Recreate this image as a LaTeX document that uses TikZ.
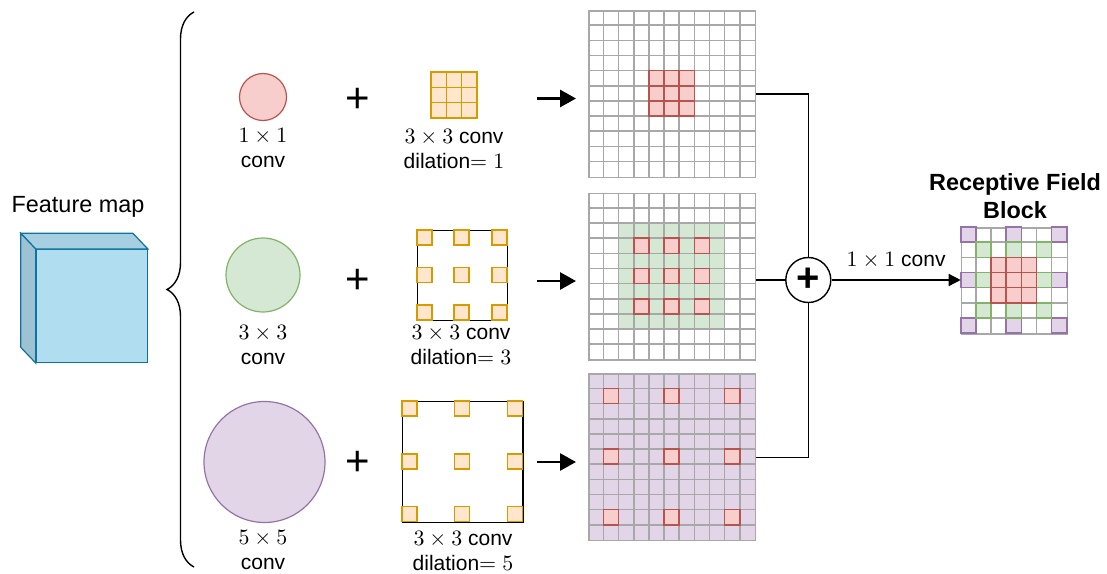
\documentclass[tikz,border=0pt]{standalone}
\usepackage{fontspec}
\setmainfont{Liberation Sans}
\usetikzlibrary{shapes,arrows.meta,positioning,calc,decorations.pathreplacing}

\definecolor{redfill}{HTML}{F8CECC}
\definecolor{redline}{HTML}{B85450}
\definecolor{greenfill}{HTML}{D5E8D4}
\definecolor{greenline}{HTML}{82B366}
\definecolor{purplefill}{HTML}{E1D5E7}
\definecolor{purpleline}{HTML}{9673A6}
\definecolor{orangefill}{HTML}{FFE6CC}
\definecolor{orangeline}{HTML}{D79B00}
\definecolor{bluefill}{HTML}{B1DDF0}
\definecolor{blueline}{HTML}{10739E}
\definecolor{gridgray}{HTML}{A8A8A8}

\tikzset{
    gridframe/.style={rectangle, draw=gridgray, line width=0.75pt, inner sep=0pt, anchor=north west},
    gridline/.style={draw=gridgray, line width=0.75pt},
    redcell/.style={fill=redfill, draw=redline, line width=0.8pt},
    greencell/.style={fill=greenfill, draw=greenline, line width=0.8pt},
    purplecell/.style={fill=purplefill, draw=purpleline, line width=0.8pt},
    orangecell/.style={fill=orangefill, draw=orangeline, line width=0.8pt},
    caption/.style={align=center, font=\fontsize{10.5}{12.5}\selectfont},
    plussign/.style={font=\fontsize{21}{21}\selectfont},
    shortarrow/.style={line width=1.4pt, -{Triangle[length=8pt,width=8.5pt]}},
    link/.style={line width=0.7pt}
}

\begin{document}
\begin{tikzpicture}[x=0.5pt, y=-0.5pt]
    \useasboundingbox (0,0) rectangle (1107,573);

    % input feature map
    \node[font=\fontsize{11.7}{14}\selectfont] (fmtext) at (78,207) {Feature map};
    \node[rectangle, draw=blueline, fill=bluefill, line width=0.6pt, minimum width=55.5pt, minimum height=56.4pt, anchor=north west] (fmap) at (35.7,249) {};
    \draw[draw=blueline, fill=bluefill!94!black, line width=0.6pt] (fmap.north west) -- ++(-15,-15.7) -- ($(fmap.north east)+(-15,-15.7)$) -- (fmap.north east) -- cycle;
    \draw[draw=blueline, fill=bluefill!88!black, line width=0.6pt] (fmap.north west) -- ++(-15,-15.7) -- ($(fmap.south west)+(-15,-15.7)$) -- (fmap.south west) -- cycle;

    \coordinate (bracebot) at (194,567);
    \coordinate (bracetop) at (194,12);
    \draw[decorate, decoration={brace, amplitude=13.5pt, aspect=0.5}, line width=0.7pt] (bracebot) -- (bracetop);

    % branch convolutions
    \node[circle, fill=redfill, draw=redline, line width=0.6pt, minimum size=23.5pt, inner sep=0pt] (c1) at (263,97) {};
    \node[circle, fill=greenfill, draw=greenline, line width=0.6pt, minimum size=37pt, inner sep=0pt] (c2) at (263,275) {};
    \node[circle, fill=purplefill, draw=purpleline, line width=0.6pt, minimum size=60.5pt, inner sep=0pt] (c3) at (264.5,462) {};
    \node[caption] (c1text) at (263,148) {$1\times1$\\conv};
    \node[caption] (c2text) at (263,345) {$3\times3$\\conv};
    \node[caption] (c3text) at (263,550) {$5\times5$\\conv};

    \node[plussign] (p1) at (358,100) {+};
    \node[plussign] (p2) at (358,281) {+};
    \node[plussign] (p3) at (358,463) {+};

    % dilated kernels
    \node[rectangle, inner sep=0pt, minimum size=23pt, anchor=north west] (k1) at (431,72) {};
    \begin{scope}[shift={(k1.north west)}, x=7.65pt, y=-7.65pt]
        \foreach \i in {0,1,2}
            \foreach \j in {0,1,2}
                \draw[orangecell] (\i,\j) rectangle ++(1,1);
    \end{scope}
    \node[rectangle, draw, line width=0.6pt, inner sep=0pt, minimum size=45pt, anchor=north west] (k2) at (416.7,230) {};
    \begin{scope}[shift={(k2.north west)}]
        \foreach \i in {0,37.5,75}
            \foreach \j in {0,37.5,75}
                \draw[orangecell] (\i,\j) rectangle ++(15,15);
    \end{scope}
    \node[rectangle, draw, line width=0.6pt, inner sep=0pt, minimum size=60.3pt, anchor=north west] (k3) at (401.7,401) {};
    \begin{scope}[shift={(k3.north west)}]
        \foreach \i in {0,52.8,105.6}
            \foreach \j in {0,52.8,105.6}
                \draw[orangecell] (\i,\j) rectangle ++(15,15);
    \end{scope}
    \node[caption] (k1text) at (454,149) {$3\times3$ conv\\dilation$=1$};
    \node[caption] (k2text) at (461,345) {$3\times3$ conv\\dilation$=3$};
    \node[caption] (k3text) at (463,551) {$3\times3$ conv\\dilation$=5$};

    \coordinate (a1) at (537,98.5);
    \coordinate (b1) at (576,98.5);
    \coordinate (a2) at (537,281);
    \coordinate (b2) at (576,281);
    \coordinate (a3) at (537,462);
    \coordinate (b3) at (576,462);
    \draw[shortarrow] (a1) -- (b1);
    \draw[shortarrow] (a2) -- (b2);
    \draw[shortarrow] (a3) -- (b3);

    % receptive fields of the branches
    \node[gridframe, minimum size=83.3pt] (g1) at (588.3,10) {};
    \begin{scope}[shift={(g1.north west)}, x=7.575pt, y=-7.575pt]
        \foreach \i in {1,...,10} {
            \draw[gridline] (\i,0) -- (\i,11);
            \draw[gridline] (0,\i) -- (11,\i);
        }
        \foreach \i in {4,5,6}
            \foreach \j in {4,5,6}
                \draw[redcell] (\i,\j) rectangle ++(1,1);
    \end{scope}

    \node[gridframe, minimum size=83.3pt] (g2) at (588.3,192.7) {};
    \begin{scope}[shift={(g2.north west)}, x=7.575pt, y=-7.575pt]
        \fill[greenfill] (2,2) rectangle (9,9);
        \foreach \i in {1,...,10} {
            \draw[gridline] (\i,0) -- (\i,11);
            \draw[gridline] (0,\i) -- (11,\i);
        }
        \foreach \i in {3,5,7}
            \foreach \j in {3,5,7}
                \draw[redcell] (\i,\j) rectangle ++(1,1);
    \end{scope}

    \node[gridframe, fill=purplefill, minimum size=83.3pt] (g3) at (588.3,373.3) {};
    \begin{scope}[shift={(g3.north west)}, x=7.575pt, y=-7.575pt]
        \foreach \i in {1,...,10} {
            \draw[gridline] (\i,0) -- (\i,11);
            \draw[gridline] (0,\i) -- (11,\i);
        }
        \foreach \i in {1,5,9}
            \foreach \j in {1,5,9}
                \draw[redcell] (\i,\j) rectangle ++(1,1);
    \end{scope}

    % merged block
    \node[gridframe, minimum size=53pt] (g4) at (960.7,227) {};
    \begin{scope}[shift={(g4.north west)}, x=7.575pt, y=-7.575pt]
        \foreach \i in {1,...,6} {
            \draw[gridline] (\i,0) -- (\i,7);
            \draw[gridline] (0,\i) -- (7,\i);
        }
        \foreach \i/\j in {0/0,3/0,6/0,0/3,6/3,0/6,3/6,6/6}
            \draw[purplecell] (\i,\j) rectangle ++(1,1);
        \foreach \i/\j in {1/1,3/1,5/1,1/3,5/3,1/5,3/5,5/5}
            \draw[greencell] (\i,\j) rectangle ++(1,1);
        \foreach \i in {2,3,4}
            \foreach \j in {2,3,4}
                \draw[redcell] (\i,\j) rectangle ++(1,1);
    \end{scope}
    \node[font=\bfseries\fontsize{11.7}{14}\selectfont, align=center] (rfb) at (1015,196) {Receptive Field\\Block};

    \node[circle, draw, line width=0.7pt, minimum size=22.5pt, inner sep=0pt, font=\bfseries\fontsize{20}{20}\selectfont] (sum) at (808.3,280) {+};

    \draw[link] (g1.east) -| (sum.north);
    \draw[link] (g2.east |- sum) -- (sum.west);
    \draw[link] (g3.east) -| (sum.south);
    \draw[link, -{Triangle[length=6pt,width=6pt]}] (sum) -- (g4.west |- sum) node[midway, above=2pt, caption] {$1\times1$ conv};
\end{tikzpicture}
\end{document}
